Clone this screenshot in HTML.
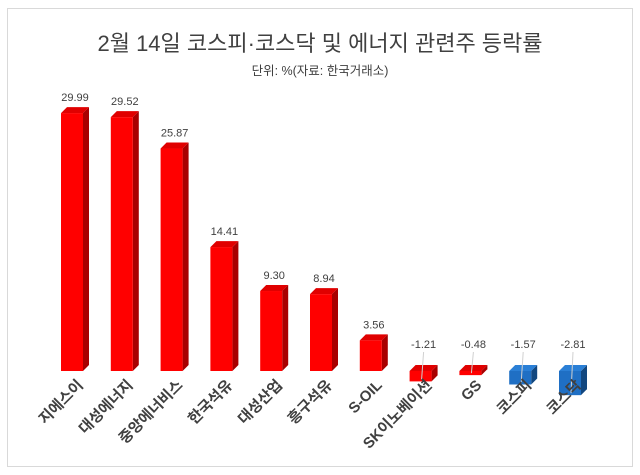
<!DOCTYPE html>
<html><head><meta charset="utf-8"><style>
body{margin:0;background:#fff;}
svg{display:block;font-family:"Liberation Sans","Noto Sans CJK KR",sans-serif;}
</style></head><body>
<svg width="640" height="475" viewBox="0 0 640 475">
<rect x="7.5" y="8.5" width="625" height="458" fill="#fff" stroke="#d9d9d9"/>
<text x="320" y="51" text-anchor="middle" font-size="22" fill="#404040">2월 14일 코스피·코스닥 및 에너지 관련주 등락률</text>
<text x="320" y="75" text-anchor="middle" font-size="12.5" fill="#404040">단위: %(자료: 한국거래소)</text>
<g id="bars"></g>
</svg>
<script>
var d=[["지에스이",29.99],["대성에너지",29.52],["중앙에너비스",25.87],["한국석유",14.41],["대성산업",9.30],["흥구석유",8.94],["S-OIL",3.56],["SK이노베이션",-1.21],["GS",-0.48],["코스피",-1.57],["코스닥",-2.81]];
var g=document.getElementById('bars'),h='',B=371,S=8.6,W=22,D=6;
d.forEach(function(e,i){
 var x=61+i*49.8,v=e[1],t=v>=0?B-v*S:B,b=v>=0?B:B-v*S;
 var blue=i>=9,f=blue?'#1f6fc4':'#ff0000',s=blue?'#12477f':'#a80000',c=blue?'#2a7fd6':'#e00000';
 h+='<polygon points="'+(x+W)+','+t+' '+(x+W+D)+','+(t-D)+' '+(x+W+D)+','+(b-D)+' '+(x+W)+','+b+'" fill="'+s+'"/>';
 h+='<polygon points="'+x+','+t+' '+(x+D)+','+(t-D)+' '+(x+W+D)+','+(t-D)+' '+(x+W)+','+t+'" fill="'+c+'"/>';
 h+='<rect x="'+x+'" y="'+t+'" width="'+W+'" height="'+(b-t)+'" fill="'+f+'"/>';
 var lx=x+W/2+3,ly;
 if(v>=0){ly=t-12;}else{ly=348;h+='<line x1="'+lx+'" y1="'+(ly+4)+'" x2="'+(lx-2)+'" y2="'+(b-2)+'" stroke="#d0d0d0" stroke-width="1"/>';}
 h+='<text x="'+lx+'" y="'+ly+'" text-anchor="middle" font-size="11" fill="#404040">'+v.toFixed(2)+'</text>';
 var ax=x+W/2+12,ay=386;
 h+='<text transform="translate('+ax+','+ay+') rotate(-45)" text-anchor="end" font-size="15" font-weight="bold" fill="#404040">'+e[0]+'</text>';
});
g.innerHTML=h;
</script>
</body></html>
